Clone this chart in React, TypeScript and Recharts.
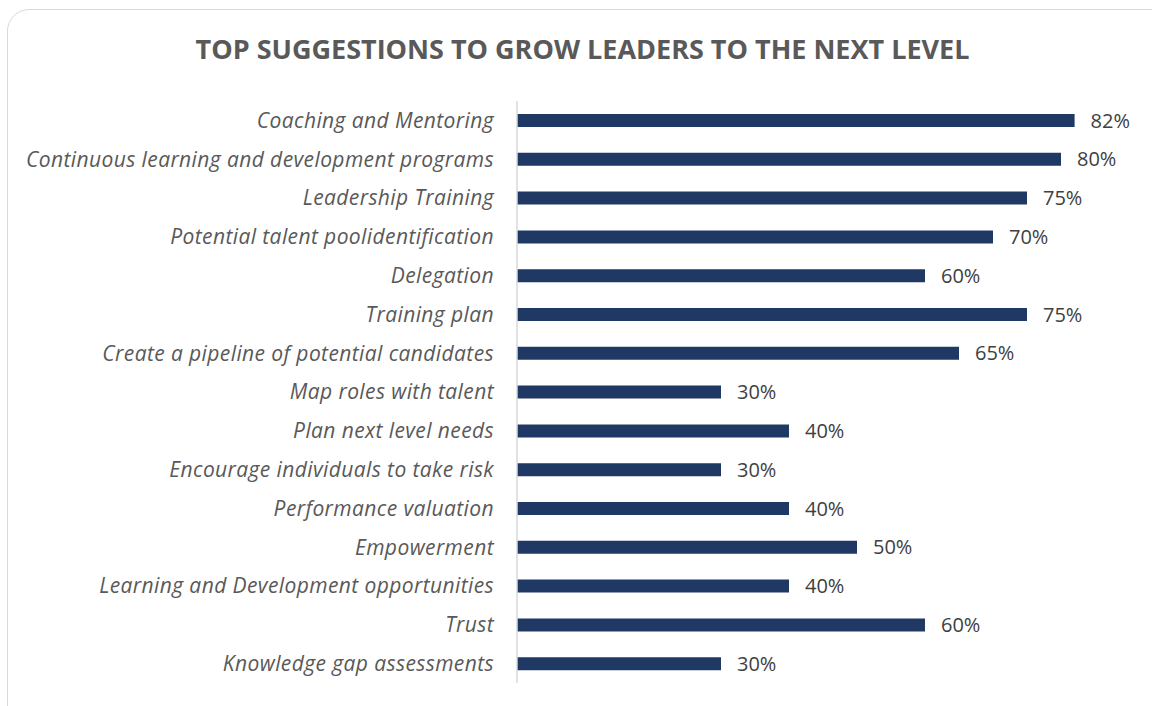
import { BarChart, Bar, XAxis, YAxis, LabelList } from "recharts";

const categories = [
  "Coaching and Mentoring",
  "Continuous learning and development programs",
  "Leadership Training",
  "Potential talent poolidentification",
  "Delegation",
  "Training plan",
  "Create a pipeline of potential candidates",
  "Map roles with talent",
  "Plan next level needs",
  "Encourage individuals to take risk",
  "Performance valuation",
  "Empowerment",
  "Learning and Development opportunities",
  "Trust",
  "Knowledge gap assessments",
];
const percents = [82, 80, 75, 70, 60, 75, 65, 30, 40, 30, 40, 50, 40, 60, 30];

const data = categories.map((name, i) => ({ name, value: percents[i] }));

const font = "'Open Sans', 'Noto Sans', sans-serif";

export default function App() {
  return (
    <div style={{ position: "absolute", left: 0, top: 0, width: 1152, height: 706, overflow: "hidden", background: "#fff" }}>
      {/* card frame */}
      <div
        style={{
          position: "absolute",
          left: 7,
          top: 9,
          width: 1170,
          height: 720,
          border: "1.5px solid #d9d9d9",
          borderRadius: 22,
          boxSizing: "border-box",
        }}
      />
      <div
        style={{
          position: "absolute",
          left: 0,
          top: 30,
          width: 1165,
          textAlign: "center",
          fontFamily: font,
          fontWeight: 700,
          fontSize: 27,
          color: "#595959",
        }}
      >
        TOP SUGGESTIONS TO GROW LEADERS TO THE NEXT LEVEL
      </div>
      <div style={{ position: "absolute", left: 0, top: 0 }}>
        <BarChart
          width={1152}
          height={706}
          data={data}
          layout="vertical"
          margin={{ top: 101, right: 23, bottom: 23, left: 0 }}
          barSize={13}
        >
          <XAxis type="number" domain={[0, 90]} hide />
          <YAxis
            type="category"
            dataKey="name"
            width={517}
            tickSize={0}
            tickMargin={23}
            axisLine={{ stroke: "#d9d9d9", strokeWidth: 1.5 }}
            tick={{ fill: "#595959", fontSize: 21, fontStyle: "italic", fontFamily: font, letterSpacing: 0.4 }}
            interval={0}
          />
          <Bar dataKey="value" fill="#203864" isAnimationActive={false}>
            <LabelList
              dataKey="value"
              position="right"
              offset={16}
              formatter={(v: any) => `${v}%`}
              style={{ fill: "#404040", fontSize: 20, fontFamily: font }}
            />
          </Bar>
        </BarChart>
      </div>
    </div>
  );
}
